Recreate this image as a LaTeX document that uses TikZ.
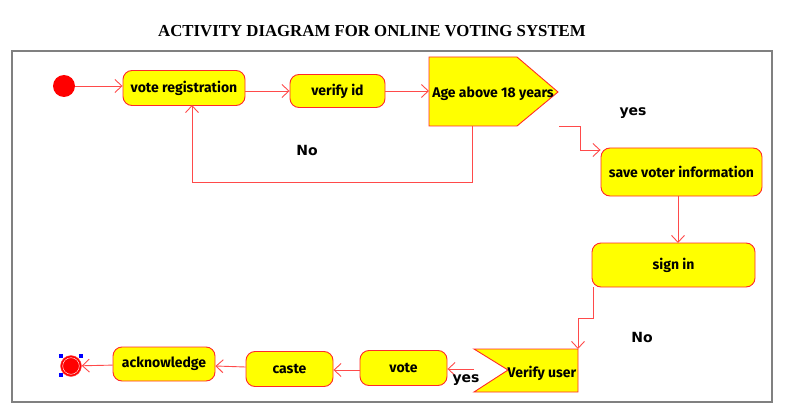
\documentclass[tikz,border=0pt]{standalone}
\usepackage{fontspec}
\setmainfont{Fira Sans}
\newfontfamily\guardfont{DejaVu Sans}
\newfontfamily\titlefont{Liberation Serif}
\usetikzlibrary{arrows.meta}
\definecolor{actred}{HTML}{FF2A2A}
\definecolor{linkred}{HTML}{FF4A4A}
\definecolor{actyellow}{HTML}{FFFF00}

\begin{document}
\begin{tikzpicture}[x=1pt,y=-1pt,
    act/.style={draw=actred, fill=actyellow, line width=0.9pt, rounded corners=9pt, inner sep=0pt,
      font=\bfseries\fontsize{14}{16}\selectfont},
    flow/.style={draw=linkred, line width=0.9pt, -{Straight Barb[length=7pt,width=13pt]}},
    guard/.style={font=\guardfont\bfseries\fontsize{14}{16}\selectfont}]
    \useasboundingbox (0,0) rectangle (786,414);
    \draw [gray, line width=2pt] (12,51) rectangle (772,402);
    \node (title) at (372,31) {\titlefont\bfseries\fontsize{16.8}{19}\selectfont ACTIVITY DIAGRAM FOR ONLINE VOTING SYSTEM};
    \node (start) [circle, fill=red, minimum size=22pt, inner sep=0pt] at (64,86) {};
    \node (reg) [act, minimum width=122pt, minimum height=35pt] at (184,88) {vote registration};
    \node (verid) [act, minimum width=95pt, minimum height=33pt] at (337.5,91) {verify id};
    \draw [actred, fill=actyellow, line width=0.9pt] (429,57) -- (517,57) -- (558,92) -- (517,126) -- (429,126) -- cycle;
    \node (age) [font=\bfseries\fontsize{14}{16}\selectfont] at (493,94) {Age above 18 years};
    \coordinate (agein) at (429,91);
    \coordinate (ageno) at (472,126);
    \coordinate (ageyes) at (559,126);
    \node (save) [act, minimum width=161pt, minimum height=48pt] at (681.5,172) {save voter information};
    \node (sign) [act, minimum width=163pt, minimum height=44pt] at (673.5,265) {sign in};
    \draw [actred, fill=actyellow, line width=0.9pt] (474,349) -- (578,349) -- (578,392) -- (474,392) -- (508,370) -- cycle;
    \node (vuser) [font=\bfseries\fontsize{14}{16}\selectfont] at (542,373) {Verify user};
    \coordinate (vuin) at (578,349);
    \coordinate (vuout) at (474,369);
    \coordinate (signout) at (593,287);
    \node (vote) [act, minimum width=87pt, minimum height=35pt] at (403.5,368) {vote};
    \node (caste) [act, minimum width=87pt, minimum height=35pt] at (289.5,369) {caste};
    \node (ack) [act, minimum width=102pt, minimum height=34pt] at (164,364) {acknowledge};
    \node (end) [circle, fill=red, draw=red!70, minimum size=21pt, inner sep=0pt] at (71,366) {};
    \draw [white, thin] (end.center) circle [radius=8.3];
    \foreach \hx/\hy in {61/356, 81/356, 61/375}
      \fill [blue] (\hx-1.7,\hy-1.7) rectangle (\hx+1.7,\hy+1.7);
    \draw [flow] (start) -- (reg.west |- start);
    \draw [flow] (reg.east |- verid) -- (verid);
    \draw [flow] (verid) -- (agein);
    \draw [flow] (ageno) -- (472,182) -| (192,105);
    \draw [flow] (ageyes) -- (580,126) -- (580,150) -- (save.west |- 0,150);
    \draw [flow] (678,196) -- (678,243);
    \draw [flow] (signout) -- (593,318) -| (vuin);
    \draw [flow] (vuout) -- (vote.east |- vuout);
    \draw [flow] (vote.west |- 0,370) -- (caste.east |- 0,370);
    \draw [flow] (caste.west |- 0,367) -- (ack.east |- 0,366);
    \draw [flow] (ack) -- (end);
    \node (no1) [guard] at (307,150) {No};
    \node (yes1) [guard] at (633,113) {yes};
    \node (no2) [guard] at (642,337) {No};
    \node (yes2) [guard] at (466,380) {yes};
\end{tikzpicture}
\end{document}
